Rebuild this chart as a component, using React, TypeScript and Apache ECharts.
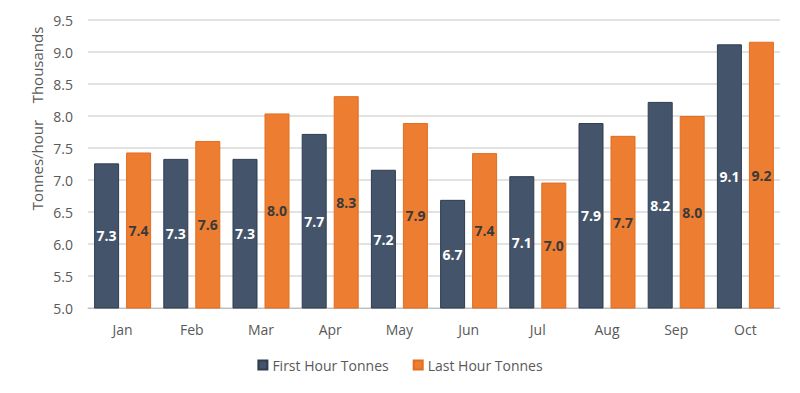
import React, { useEffect, useRef } from "react";
import * as echarts from "echarts";

const categories = ["Jan", "Feb", "Mar", "Apr", "May", "Jun", "Jul", "Aug", "Sep", "Oct"];
const firstHour = [7.26, 7.33, 7.33, 7.72, 7.16, 6.69, 7.06, 7.89, 8.22, 9.12];
const lastHour = [7.43, 7.61, 8.04, 8.31, 7.89, 7.42, 6.96, 7.69, 8.0, 9.16];
const seriesNames = ["First Hour Tonnes", "Last Hour Tonnes"];
const yTicks = { min: 5, max: 9.5, interval: 0.5 };

const FONT = "'Open Sans', sans-serif";

export default function App() {
  const ref = useRef<HTMLDivElement>(null);
  useEffect(() => {
    if (!ref.current) return;
    const chart = echarts.init(ref.current, undefined, { renderer: "svg" });
    const fmt = (p: any) => (Math.round(p.value * 10) / 10).toFixed(1);
    chart.setOption({
      animation: false,
      textStyle: { fontFamily: FONT },
      grid: { left: 88, right: 20, top: 20, bottom: 85 },
      legend: {
        data: seriesNames,
        bottom: 16,
        left: "center",
        itemWidth: 9,
        itemHeight: 9,
        itemGap: 24,
        icon: "rect",
        textStyle: { color: "#595959", fontSize: 14, fontFamily: FONT },
      },
      xAxis: {
        type: "category",
        data: categories,
        axisTick: { show: false },
        axisLine: { lineStyle: { color: "#bfbfbf", width: 1 } },
        axisLabel: { color: "#595959", fontSize: 14, margin: 14, fontFamily: FONT },
      },
      yAxis: {
        type: "value",
        min: yTicks.min,
        max: yTicks.max,
        interval: yTicks.interval,
        axisLabel: {
          color: "#595959",
          fontSize: 14,
          margin: 15,
          fontFamily: FONT,
          formatter: (v: number) => v.toFixed(1),
        },
        splitLine: { lineStyle: { color: "#d9d9d9", width: 1.5 } },
      },
      graphic: [
        {
          type: "text",
          x: 37,
          y: 165,
          rotation: Math.PI / 2,
          style: {
            text: "Tonnes/hour",
            fontSize: 15,
            fontFamily: FONT,
            fill: "#595959",
            textAlign: "center",
            textVerticalAlign: "middle",
          },
        },
        {
          type: "text",
          x: 37,
          y: 65,
          rotation: Math.PI / 2,
          style: {
            text: "Thousands",
            fontSize: 15,
            fontFamily: FONT,
            fill: "#595959",
            textAlign: "center",
            textVerticalAlign: "middle",
          },
        },
      ],
      series: [
        {
          name: seriesNames[0],
          type: "bar",
          data: firstHour,
          barWidth: 25,
          barGap: "28%",
          itemStyle: { color: "#44546A", borderColor: "#2F3D50", borderWidth: 1 },
          label: {
            show: true,
            position: "inside",
            color: "#ffffff",
            fontSize: 14,
            fontWeight: "bold",
            fontFamily: FONT,
            formatter: fmt,
          },
        },
        {
          name: seriesNames[1],
          type: "bar",
          data: lastHour,
          barWidth: 25,
          barGap: "28%",
          itemStyle: { color: "#ED7D31", borderColor: "#E06E20", borderWidth: 1 },
          label: {
            show: true,
            position: "inside",
            color: "#3a3a3a",
            fontSize: 14,
            fontWeight: "bold",
            fontFamily: FONT,
            formatter: fmt,
          },
        },
      ],
    });
    return () => chart.dispose();
  }, []);
  return (
    <div
      ref={ref}
      style={{ position: "absolute", left: 0, top: 0, width: 800, height: 393 }}
    />
  );
}
